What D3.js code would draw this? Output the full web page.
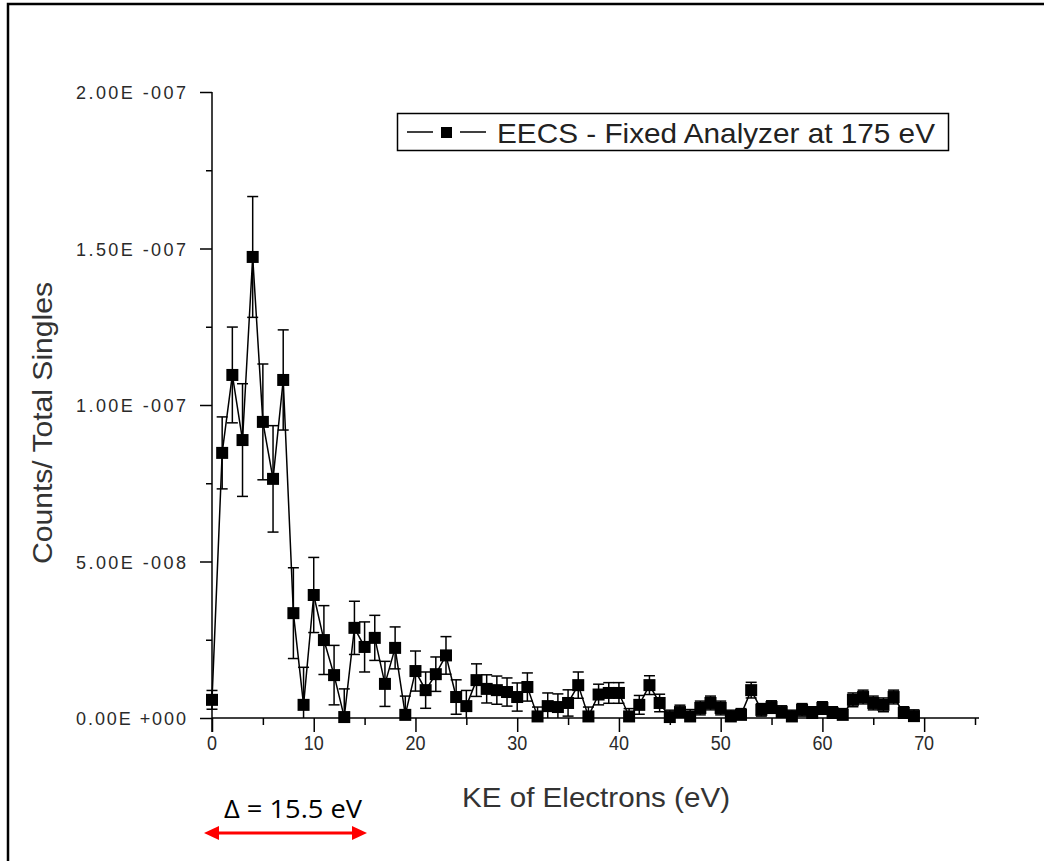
<!DOCTYPE html>
<html><head><meta charset="utf-8">
<script src="https://cdn.jsdelivr.net/npm/d3@7/dist/d3.min.js"></script>
<style>body{margin:0;background:#fff}svg{display:block}</style>
</head><body>
<svg id="c" width="1044" height="861"></svg>
<script>
// Data (values in units of 1e-8 Counts/Total Singles)
const keValues = [0,1,2,3,4,5,6,7,8,9,10,11,12,13,14,15,16,17,18,19,20,21,22,23,24,25,26,27,28,29,30,31,32,33,34,35,36,37,38,39,40,41,42,43,44,45,46,47,48,49,50,51,52,53,54,55,56,57,58,59,60,61,62,63,64,65,66,67,68,69];
const countsE8 = [0.58,8.47,10.96,8.88,14.73,9.46,7.64,10.8,3.35,0.42,3.93,2.49,1.37,0.03,2.88,2.27,2.56,1.09,2.24,0.1,1.5,0.89,1.4,2.0,0.67,0.38,1.21,0.93,0.89,0.83,0.67,0.99,0.05,0.38,0.35,0.48,1.05,0.05,0.75,0.8,0.8,0.05,0.42,1.05,0.48,0.03,0.19,0.05,0.32,0.48,0.32,0.05,0.1,0.89,0.26,0.35,0.19,0.05,0.26,0.16,0.32,0.16,0.1,0.58,0.67,0.48,0.42,0.67,0.16,0.06];
const errorsE8 = [0.3,1.15,1.53,1.8,1.93,1.85,1.7,1.6,1.45,1.2,1.2,1.1,0.95,0.9,0.85,0.8,0.72,0.72,0.67,0.6,0.64,0.58,0.55,0.6,0.55,0.5,0.52,0.45,0.45,0.45,0.45,0.45,0.3,0.42,0.42,0.42,0.42,0.3,0.33,0.33,0.33,0.25,0.3,0.3,0.28,0.22,0.22,0.22,0.22,0.22,0.22,0.2,0.2,0.25,0.2,0.2,0.2,0.2,0.2,0.2,0.2,0.2,0.2,0.22,0.22,0.22,0.22,0.22,0.2,0.2];
const yTickValues = [0, 5e-8, 1e-7, 1.5e-7, 2e-7];
const yTickLabels = ["0.00E+000","5.00E-008","1.00E-007","1.50E-007","2.00E-007"];
const xTickValues = [0,10,20,30,40,50,60,70];
const legendLabel = "EECS - Fixed Analyzer at 175 eV";
const xTitle = "KE of Electrons (eV)";
const yTitle = "Counts/ Total Singles";
const annotationText = "\u0394 = 15.5 eV";

const data = keValues.map((k,i)=>({x:k, y:countsE8[i]*1e-8, e:errorsE8[i]*1e-8}));

const svg = d3.select("#c");
const x = d3.scaleLinear().domain([0,75]).range([212,975]);
const y = d3.scaleLinear().domain([0,2e-7]).range([718,92]);
const tickFont = "'Liberation Sans', Arial, sans-serif";
const textCol = "#2a2a2a";

// outer frame (top and left edges visible)
svg.append("path").attr("d","M8,870 L8,4 L1050,4").attr("fill","none").attr("stroke","#000").attr("stroke-width",2.5);

// axes
const gx = svg.append("g").attr("transform","translate(0,718)");
gx.call(d3.axisBottom(x).tickValues(d3.range(0,76,5)).tickSize(7).tickFormat(""))
gx.selectAll(".tick line").attr("y2", d => d%10===0 ? 14 : 7).attr("stroke","#000").attr("stroke-width",1.5);
gx.select(".domain").attr("d","M212,0H979").attr("stroke","#000").attr("stroke-width",1.5);
gx.selectAll(".tickLbl").data(xTickValues).enter().append("text")
  .attr("x", d=>x(d)).attr("y", 32).attr("text-anchor","middle")
  .attr("font-family",tickFont).attr("font-size",20).attr("fill",textCol)
  .attr("textLength", d=> String(d).length===1 ? 10 : 20).attr("lengthAdjust","spacingAndGlyphs")
  .text(d=>d);

const gy = svg.append("g").attr("transform","translate(212,0)");
gy.call(d3.axisLeft(y).tickValues(d3.range(0,9).map(i=>i*2.5e-8)).tickFormat(""));
gy.selectAll(".tick line").attr("x2", (d,i)=> i%2===0 ? -12 : -6).attr("stroke","#000").attr("stroke-width",1.5);
gy.select(".domain").attr("d","M0,92V732").attr("stroke","#000").attr("stroke-width",1.5);
gy.selectAll(".tickLbl").data(yTickValues).enter().append("text")
  .attr("x", -136).attr("y", d=>y(d)+7).attr("text-anchor","start")
  .attr("font-family",tickFont).attr("font-size",18).attr("fill",textCol)
  .attr("textLength",110).attr("lengthAdjust","spacing")
  .text((d,i)=>yTickLabels[i].replace("E","E "));

// titles
svg.append("text").attr("x",596).attr("y",807).attr("text-anchor","middle")
  .attr("font-family",tickFont).attr("font-size",28).attr("fill","#333")
  .attr("textLength",268).attr("lengthAdjust","spacingAndGlyphs").text(xTitle);
svg.append("text").attr("transform","translate(52,423) rotate(-90)").attr("text-anchor","middle")
  .attr("font-family",tickFont).attr("font-size",28).attr("fill","#333")
  .attr("textLength",282).attr("lengthAdjust","spacingAndGlyphs").text(yTitle);

// line
const line = d3.line().x(d=>x(d.x)).y(d=>y(d.y));
svg.append("path").datum(data).attr("d",line).attr("fill","none").attr("stroke","#000").attr("stroke-width",1.5);

// error bars
const eb = svg.append("g").attr("stroke","#000").attr("stroke-width",1.5);
data.forEach(d=>{
  const cx = x(d.x), top = y(d.y+d.e), bot = y(Math.max(0,d.y-d.e));
  eb.append("line").attr("x1",cx).attr("x2",cx).attr("y1",top).attr("y2",bot);
  eb.append("line").attr("x1",cx-5.5).attr("x2",cx+5.5).attr("y1",top).attr("y2",top);
  if (d.y-d.e>0) eb.append("line").attr("x1",cx-5.5).attr("x2",cx+5.5).attr("y1",bot).attr("y2",bot);
});

// markers
svg.append("g").selectAll("rect").data(data).enter().append("rect")
  .attr("x",d=>x(d.x)-6).attr("y",d=>y(d.y)-6).attr("width",12).attr("height",12).attr("fill","#000");

// legend
const lg = svg.append("g");
lg.append("rect").attr("x",397.5).attr("y",113.5).attr("width",551).attr("height",37).attr("fill","#fff").attr("stroke","#000").attr("stroke-width",1.5);
lg.append("line").attr("x1",407).attr("x2",433).attr("y1",132).attr("y2",132).attr("stroke","#000").attr("stroke-width",1.5);
lg.append("line").attr("x1",460).attr("x2",486).attr("y1",132).attr("y2",132).attr("stroke","#000").attr("stroke-width",1.5);
lg.append("rect").attr("x",441).attr("y",127).attr("width",11).attr("height",11).attr("fill","#000");
lg.append("text").attr("x",497).attr("y",143).attr("font-family",tickFont).attr("font-size",28).attr("fill","#222")
  .attr("textLength",438).attr("lengthAdjust","spacingAndGlyphs").text(legendLabel);

// annotation
svg.append("text").attr("x",293).attr("y",818).attr("text-anchor","middle")
  .attr("font-family","'Open Sans', 'Noto Sans', sans-serif").attr("font-size",25).attr("fill","#000")
  .attr("textLength",138).attr("lengthAdjust","spacingAndGlyphs").text(annotationText);
const arr = svg.append("g").attr("fill","#f00");
svg.append("line").attr("x1",214).attr("x2",356).attr("y1",833).attr("y2",833).attr("stroke","#f00").attr("stroke-width",3);
arr.append("path").attr("d","M204,833 L219,826 L219,840 Z");
arr.append("path").attr("d","M367,833 L352,826 L352,840 Z");
</script>
</body></html>
